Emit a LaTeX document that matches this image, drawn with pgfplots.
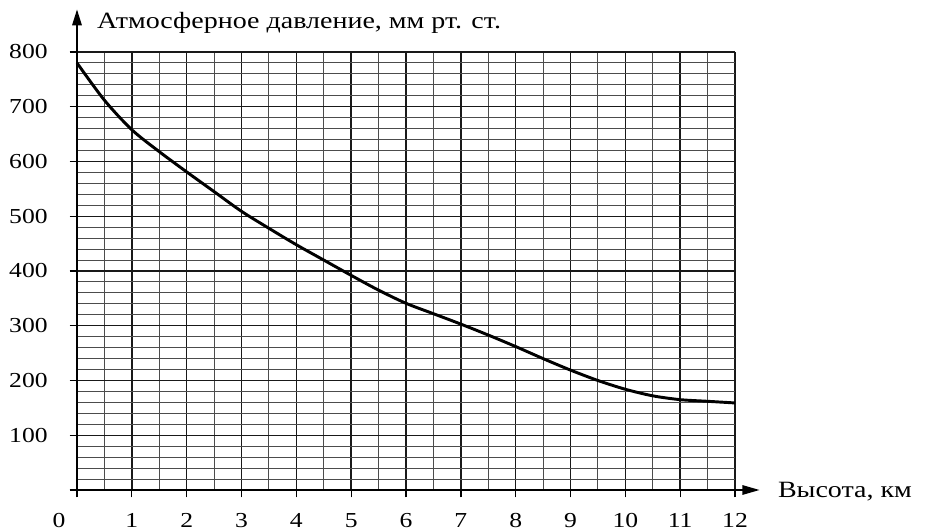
\documentclass[border=0pt]{standalone}
\usepackage{fontspec}
\setmainfont{Liberation Serif}[FakeStretch=1.2]
\usepackage{pgfplots}
\pgfplotsset{compat=1.18}
\usetikzlibrary{arrows.meta}

\begin{document}
\begin{tikzpicture}
\useasboundingbox (-57.75pt,-30.75pt) rectangle (637.5pt,367.5pt);
\begin{axis}[
  scale only axis, width=493.5pt, height=328.5pt,
  xmin=0, xmax=12, ymin=0, ymax=800,
  axis line style={draw=none},
  clip=false,
  xtick={0,1,...,12},
  xticklabels={{},1,2,3,4,5,6,7,8,9,10,11,12},
  ytick={0,100,...,800},
  yticklabels={{},100,200,300,400,500,600,700,800},
  minor x tick num=1, minor y tick num=4,
  grid=both,
  major grid style={black!90, line width=1.05pt},
  minor grid style={black!70, line width=0.7pt},
  tick pos=left, tick align=outside,
  major tick length=5.5pt, minor tick length=0pt,
  tick style={black, line width=1pt},
  /pgf/number format/assume math mode=true,
  ticklabel style={font=\fontsize{16}{19}\selectfont},
  xticklabel style={yshift=-8.5pt},
  yticklabel style={xshift=-13pt},
]
\addplot[black, line width=2.2pt, smooth] coordinates {
 (0,780) (0.5,712) (1,658) (1.5,618) (2,581) (2.5,545) (3,509) (3.5,478)
 (4,448) (4.5,420) (5,392) (5.5,365) (6,341) (6.5,322) (7,303) (7.5,283)
 (8,262) (8.5,240) (9,219) (9.5,200) (10,184) (10.5,172) (11,165)
 (11.5,162) (12,159)
};
\draw[line width=1.5pt, -{Triangle[length=13pt,width=7pt]}]
  (axis cs:-0.13,0) -- (axis cs:12.45,0);
\draw[line width=1.5pt, -{Triangle[length=12pt,width=7pt]}]
  (axis cs:0,-12) -- (axis cs:0,878);
\node[anchor=base west, font=\fontsize{17.5}{20}\selectfont, inner sep=0pt]
  at (axis cs:0.36,843) {Атмосферное давление, мм рт. ст.};
\node[anchor=base west, font=\fontsize{17.5}{20}\selectfont, inner sep=0pt]
  at (axis cs:12.78,-13) {Высота, км};
\node[anchor=base, font=\fontsize{16}{19}\selectfont, inner sep=0pt]
  at (axis cs:-0.33,-69) {0};
\end{axis}
\end{tikzpicture}
\end{document}
